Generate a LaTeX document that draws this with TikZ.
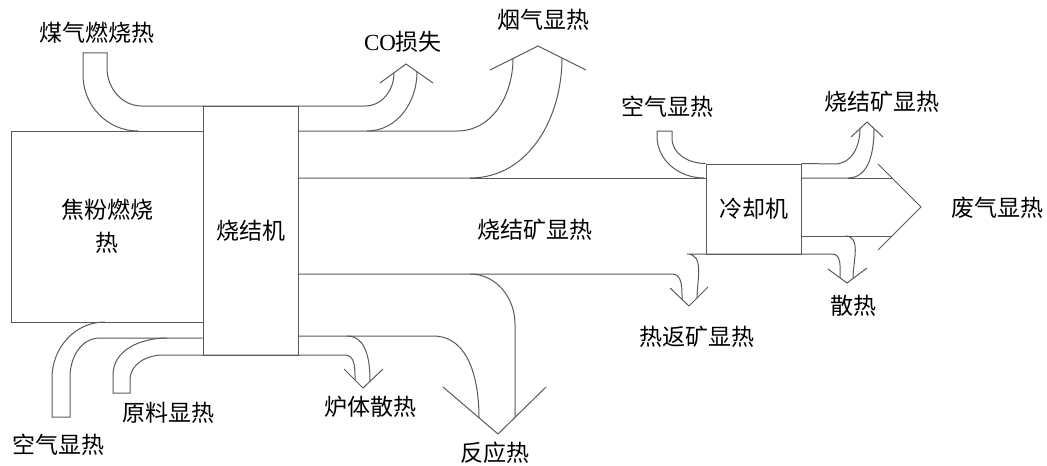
\documentclass[tikz,border=0pt]{standalone}
\usepackage{fontspec}
\setmainfont{Liberation Serif}
\newfontfamily\cjk{Noto Sans CJK SC}
\begin{document}
\begin{tikzpicture}[x=0.5pt, y=-0.5pt, line width=0.5pt,
  box/.style={draw=black!65, rectangle, inner sep=0pt, font=\cjk\fontsize{11.5}{16.5}\selectfont},
  lbl/.style={inner sep=0pt, font=\cjk\fontsize{11.5}{16.5}\selectfont},
  flow/.style={draw=black!65}]
\useasboundingbox (0,0) rectangle (1047,465);
\node[box, minimum width=96pt, minimum height=95.5pt, align=center] (box0) at (107,226.5) {焦粉燃烧\\热};
\node[box, minimum width=47.5pt, minimum height=124.5pt] (box1) at (250.5,230.5) {烧结机};
\node[box, minimum width=47.5pt, minimum height=45pt] (box2) at (753.5,209) {冷却机};
\draw[flow] (138,131) to[out=180,in=-90] (83,75) -- (83,53) -- (107,53) -- (107,68) to[out=-90,in=180] (142,106) -- (365,106) to[out=0,in=-90] (394,73);
\draw[flow] (367,131) to[out=0,in=-90] (417,72);
\draw[flow] (380,83) -- (406,64) -- (433,83);
\draw[flow] (box1.east |- 0,131) -- (457,131) to[out=0,in=-90] (513,58.5);
\draw[flow] (box1.east |- 0,178) -- (470,178) to[out=0,in=-90] (562,58);
\draw[flow] (490,70) -- (538,46) -- (586,70);
\draw[flow] (470,178) -- (box2.west |- 0,178);
\draw[flow] (box1.east |- 0,274) -- (672,274) to[out=0,in=90] (682,299);
\draw[flow] (470,274) to[out=0,in=90] (515,324) -- (515,417);
\draw[flow] (box1.east |- 0,336) -- (433,336) to[out=0,in=90] (479,418);
\draw[flow] (443,387) -- (498,434) -- (546,387);
\draw[flow] (347,336) to[out=0,in=90] (370,381);
\draw[flow] (163,355) -- (345,355) to[out=0,in=90] (355,380);
\draw[flow] (344,369) -- (363,388) -- (383,369);
\draw[flow] (box1.west |- 0,338) -- (167,338) to[out=180,in=90] (113,375) -- (113,393) -- (130,393) -- (130,380) to[out=90,in=180] (163,355);
\draw[flow] (105,322) to[out=180,in=90] (52,378) -- (52,417) -- (70,417) -- (70,377) to[out=90,in=180] (100,338) -- (167,338);
\draw[flow] (704,178) to[out=180,in=-90] (657,136) -- (657,131) -- (672,131) -- (672,138) to[out=-90,in=180] (box2.north west);
\draw[flow] (697,298) to[out=90,in=0] (687,254) -- (832,254) to[out=0,in=90] (840,278);
\draw[flow] (670,288) -- (689,306) -- (708,287);
\draw[flow] (box2.north east) -- (835,164) to[out=0,in=-90] (860,129);
\draw[flow] (box2.east |- 0,178) -- (848,178) to[out=0,in=-90] (874,129);
\draw[flow] (851,137) -- (867,122) -- (883,137);
\draw[flow] (848,178) -- (892,178);
\draw[flow] (box2.east |- 0,236) -- (892,236);
\draw[flow] (878,164) -- (921,207) -- (878,250);
\draw[flow] (845,236) to[out=0,in=90] (853,278);
\draw[flow] (828,269) -- (847,283) -- (867,268);
\node[lbl] (lab0) at (97,33) {煤气燃烧热};
\node[lbl] (lab1) at (403,42) {{\rmfamily CO}损失};
\node[lbl] (lab2) at (543,20) {烟气显热};
\node[lbl] (lab3) at (535,230) {烧结矿显热};
\node[lbl] (lab4) at (667,107) {空气显热};
\node[lbl] (lab5) at (882,102) {烧结矿显热};
\node[lbl] (lab6) at (997,208) {废气显热};
\node[lbl] (lab7) at (853,306) {散热};
\node[lbl] (lab8) at (697,337) {热返矿显热};
\node[lbl] (lab9) at (495,453) {反应热};
\node[lbl] (lab10) at (370,407) {炉体散热};
\node[lbl] (lab11) at (168,413) {原料显热};
\node[lbl] (lab12) at (58,445) {空气显热};
\end{tikzpicture}
\end{document}
